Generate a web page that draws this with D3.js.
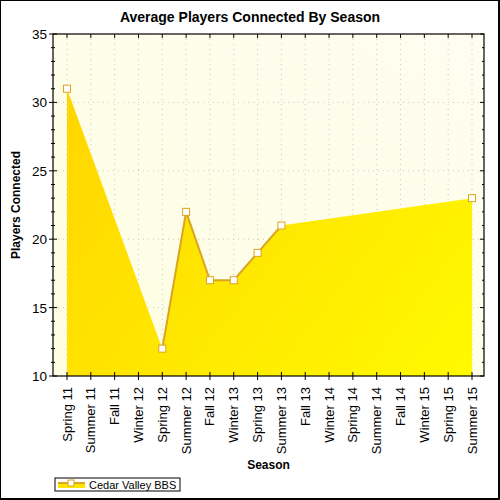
<!DOCTYPE html>
<html>
<head>
<meta charset="utf-8">
<script src="https://cdn.jsdelivr.net/npm/d3@7"></script>
<style>
  body { margin: 0; background: #fff; }
  text { font-family: "Liberation Sans", Arial, sans-serif; }
</style>
</head>
<body>
<div id="chart"></div>
<script>
// seasons on the x axis
const seasons = ["Spring 11", "Summer 11", "Fall 11", "Winter 12", "Spring 12", "Summer 12",
  "Fall 12", "Winter 13", "Spring 13", "Summer 13", "Fall 13", "Winter 14",
  "Spring 14", "Summer 14", "Fall 14", "Winter 15", "Spring 15", "Summer 15"];
// average players, null where nothing was recorded
const players = [31, null, null, null, 12, 22, 17, 17, 19, 21, null, null, null, null, null, null, null, 23];
const yTicks = [10, 15, 20, 25, 30, 35];
const seriesName = "Cedar Valley BBS";

const W = 500, H = 500;
const plot = { left: 53, right: 484, top: 34, bottom: 376 };

const svg = d3.select("#chart").append("svg")
  .attr("width", W).attr("height", H);

const defs = svg.append("defs");
const bg = defs.append("linearGradient").attr("id", "bg")
  .attr("x1", "0%").attr("y1", "100%").attr("x2", "100%").attr("y2", "0%");
bg.append("stop").attr("offset", "0%").attr("stop-color", "#fefee2");
bg.append("stop").attr("offset", "100%").attr("stop-color", "#fffdf0");

const fillGrad = defs.append("linearGradient").attr("id", "fillGrad")
  .attr("gradientUnits", "userSpaceOnUse")
  .attr("x1", plot.left).attr("y1", plot.top).attr("x2", plot.right).attr("y2", plot.bottom);
fillGrad.append("stop").attr("offset", "0%").attr("stop-color", "#ffd200");
fillGrad.append("stop").attr("offset", "100%").attr("stop-color", "#fffa00");

const x = d3.scalePoint().domain(seasons)
  .range([plot.left + 14, plot.right - 12]);
const y = d3.scaleLinear().domain([10, 35]).range([plot.bottom, plot.top]);

// plot background
svg.append("rect")
  .attr("x", plot.left).attr("y", plot.top)
  .attr("width", plot.right - plot.left).attr("height", plot.bottom - plot.top)
  .attr("fill", "url(#bg)");

// dotted grid
const grid = svg.append("g").attr("stroke", "#c8c8c8").attr("stroke-dasharray", "1,4");
grid.selectAll("line.v").data(seasons).join("line")
  .attr("x1", d => x(d)).attr("x2", d => x(d))
  .attr("y1", plot.top).attr("y2", plot.bottom);
grid.selectAll("line.h").data(yTicks.slice(1, -1)).join("line")
  .attr("x1", plot.left).attr("x2", plot.right)
  .attr("y1", d => y(d)).attr("y2", d => y(d));

const pts = seasons.map((s, i) => ({ s, v: players[i] })).filter(d => d.v != null);

// area spans the gaps
const area = d3.area().x(d => x(d.s)).y0(plot.bottom).y1(d => y(d.v));
svg.append("path").datum(pts).attr("d", area).attr("fill", "url(#fillGrad)");

// line only between neighbouring seasons
const line = d3.line().defined(d => d.v != null).x(d => x(d.s)).y(d => y(d.v));
svg.append("path").datum(seasons.map((s, i) => ({ s, v: players[i] })))
  .attr("d", line).attr("fill", "none")
  .attr("stroke", "#daa520").attr("stroke-width", 2);

svg.selectAll("rect.mk").data(pts).join("rect")
  .attr("x", d => x(d.s) - 3.5).attr("y", d => y(d.v) - 3.5)
  .attr("width", 7).attr("height", 7)
  .attr("fill", "#fff").attr("stroke", "#daa520").attr("stroke-width", 1);

// axes
const axes = svg.append("g").attr("stroke", "#000").attr("fill", "none");
axes.append("rect")
  .attr("x", plot.left).attr("y", plot.top)
  .attr("width", plot.right - plot.left).attr("height", plot.bottom - plot.top)
  .attr("stroke-width", 1.2);

const minor = d3.range(10, 36, 1);
axes.selectAll("line.ym").data(minor).join("line")
  .attr("x1", d => d % 5 === 0 ? plot.left - 4 : plot.left - 2)
  .attr("x2", d => d % 5 === 0 ? plot.left + 4 : plot.left + 2)
  .attr("y1", d => y(d)).attr("y2", d => y(d));
axes.selectAll("line.yr").data(minor).join("line")
  .attr("x1", plot.right).attr("x2", d => d % 5 === 0 ? plot.right - 4 : plot.right - 2)
  .attr("y1", d => y(d)).attr("y2", d => y(d));
axes.selectAll("line.xb").data(seasons).join("line")
  .attr("x1", d => x(d)).attr("x2", d => x(d))
  .attr("y1", plot.bottom - 4).attr("y2", plot.bottom + 4);
axes.selectAll("line.xt").data(seasons).join("line")
  .attr("x1", d => x(d)).attr("x2", d => x(d))
  .attr("y1", plot.top).attr("y2", plot.top + 4);

svg.selectAll("text.yl").data(yTicks).join("text")
  .attr("x", plot.left - 6).attr("y", d => y(d) + 5)
  .attr("text-anchor", "end").attr("font-size", 13.5).text(d => d);

svg.selectAll("text.xl").data(seasons).join("text")
  .attr("transform", d => `translate(${x(d) + 4.5},${plot.bottom + 11}) rotate(-90)`)
  .attr("text-anchor", "end").attr("font-size", 13).text(d => d);

svg.append("text").attr("x", 250).attr("y", 22)
  .attr("text-anchor", "middle").attr("font-size", 14).attr("font-weight", "bold")
  .text("Average Players Connected By Season");
svg.append("text").attr("transform", `translate(20,${(plot.top + plot.bottom) / 2}) rotate(-90)`)
  .attr("text-anchor", "middle").attr("font-size", 12).attr("font-weight", "bold")
  .text("Players Connected");
svg.append("text").attr("x", (plot.left + plot.right) / 2).attr("y", 469)
  .attr("text-anchor", "middle").attr("font-size", 12).attr("font-weight", "bold")
  .text("Season");

// legend
const lg = svg.append("g").attr("transform", "translate(55,478)");
lg.append("rect").attr("x", 0).attr("y", 0).attr("width", 125).attr("height", 13)
  .attr("fill", "#fff").attr("stroke", "#000");
lg.append("rect").attr("x", 3).attr("y", 5).attr("width", 27).attr("height", 5).attr("fill", "#ffe600");
lg.append("line").attr("x1", 3).attr("x2", 30).attr("y1", 5).attr("y2", 5)
  .attr("stroke", "#daa520").attr("stroke-width", 2);
lg.append("rect").attr("x", 13).attr("y", 2).attr("width", 6).attr("height", 6)
  .attr("fill", "#fff").attr("stroke", "#daa520");
lg.append("text").attr("x", 34).attr("y", 10.5).attr("font-size", 11).text(seriesName);

// outer frame
svg.append("rect").attr("x", 0.5).attr("y", 0.5).attr("width", 498).attr("height", 498)
  .attr("fill", "none").attr("stroke", "#000");
svg.append("path").attr("d", "M499.5,0V499.5H0").attr("fill", "none").attr("stroke", "#000");
</script>
</body>
</html>
